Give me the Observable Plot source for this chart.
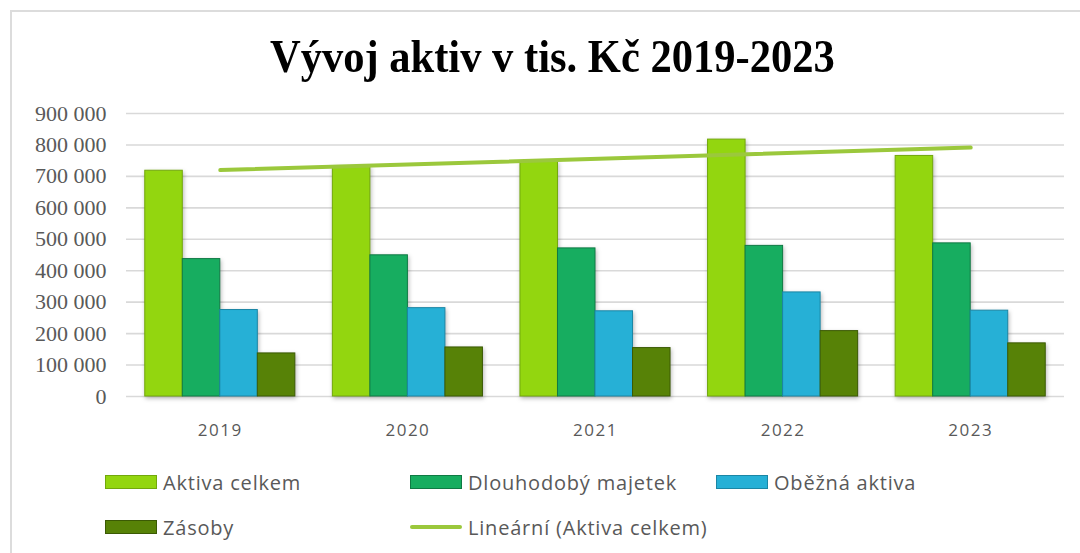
<!DOCTYPE html>
<html>
<head>
<meta charset="utf-8">
<script src="https://cdn.jsdelivr.net/npm/d3@7"></script>
<script src="https://cdn.jsdelivr.net/npm/@observablehq/plot@0.6"></script>
<style>
  html, body { margin: 0; padding: 0; background: #fff; width: 1080px; height: 553px; overflow: hidden; }
  #frame { position: absolute; left: 10px; top: 10px; width: 1200px; height: 700px; border-left: 2px solid #dcdcdc; border-top: 2px solid #dcdcdc; }
  #title { position: absolute; left: 0; top: 34px; width: 1105px; text-align: center; font-family: "Liberation Serif", "Times New Roman", serif; font-weight: bold; font-size: 46px; line-height: 46px; color: #000; }
  #title span { display: inline-block; transform: scaleX(0.925); transform-origin: center; }
  #chart { position: absolute; left: 0; top: 90px; }
  .leg { position: absolute; display: flex; align-items: center; font-family: "Open Sans", sans-serif; font-size: 20px; letter-spacing: 0.8px; color: #595959; height: 24px; white-space: nowrap; }
  .sw { width: 50px; height: 12px; margin-right: 6px; border: 1px solid; }
  .ln { width: 52px; height: 4px; margin-right: 6px; border-radius: 2px; }
</style>
</head>
<body>
<div id="frame"></div>
<div id="title"><span>Vývoj aktiv v tis. Kč 2019-2023</span></div>
<div id="chart"></div>
<div id="legend"></div>
<script>
// ---- data ----
const years = [2019, 2020, 2021, 2022, 2023];
const aktivaCelkem      = [718000, 732000, 747000, 817000, 765000];
const dlouhodobyMajetek = [437000, 449000, 471000, 479000, 487000];
const obeznaAktiva      = [275000, 281000, 271000, 331000, 273000];
const zasoby            = [137000, 156000, 154000, 208000, 169000];
const seriesNames = ["Aktiva celkem", "Dlouhodobý majetek", "Oběžná aktiva", "Zásoby"];
const trendName = "Lineární (Aktiva celkem)";
const yTicks = [0, 100000, 200000, 300000, 400000, 500000, 600000, 700000, 800000, 900000];

// ---- styles ----
const fills   = ["#93d60f", "#17ad60", "#26b0d6", "#578207"];
const strokes = ["#72a80c", "#0f7a44", "#1b86a5", "#3b5a04"];
const trendColor = "#9bc83c";

const seriesValues = [aktivaCelkem, dlouhodobyMajetek, obeznaAktiva, zasoby];
const groupWidth = 0.8, barWidth = groupWidth / seriesNames.length;
const rows = [];
seriesNames.forEach((name, si) => {
  years.forEach((yr, yi) => {
    const x1 = yr - groupWidth / 2 + si * barWidth;
    rows.push({series: name, si, year: yr, value: seriesValues[si][yi], x1, x2: x1 + barWidth});
  });
});
const trendData = years.map((yr, i) => ({year: yr, value: aktivaCelkem[i]}));

const fmt = d3.formatLocale({decimal: ",", thousands: " ", grouping: [3], currency: ["", " Kč"]}).format(",d");

const plot = Plot.plot({
  width: 1080,
  height: 362,
  marginTop: 23,
  marginBottom: 56,
  marginLeft: 126,
  marginRight: 16,
  style: {background: "transparent", overflow: "visible"},
  x: {type: "linear", domain: [years[0] - 0.5, years[years.length - 1] + 0.5], axis: null},
  y: {domain: [0, 900000], axis: null},
  marks: [
    Plot.ruleY(yTicks, {y: d => d, stroke: "#d9d9d9", strokeWidth: 1.6}),
    Plot.rectY(rows, {
      x1: "x1", x2: "x2", y1: 0, y2: "value",
      fill: d => fills[d.si], stroke: d => strokes[d.si], strokeWidth: 1
    }),
    Plot.linearRegressionY(trendData, {x: "year", y: "value", ci: 0, stroke: trendColor, strokeWidth: 4, strokeLinecap: "round"}),
    Plot.text(yTicks, {
      y: d => d, text: d => fmt(d), frameAnchor: "left", dx: -20, textAnchor: "end",
      fill: "#595959"
    }),
    Plot.text(years, {
      x: d => d, text: d => String(d), frameAnchor: "bottom", lineAnchor: "top", dy: 27,
      fill: "#595959"
    })
  ]
});
document.getElementById("chart").appendChild(plot);

// post-style text and bars
const yearStrs = years.map(String);
plot.querySelectorAll("text").forEach(t => {
  const s = (t.textContent || "").trim();
  if (yearStrs.includes(s)) {
    t.style.fontFamily = "'Open Sans', sans-serif";
    t.style.fontSize = "17px";
    t.style.letterSpacing = "1.5px";
  } else {
    t.style.fontFamily = "'Liberation Serif', 'Times New Roman', serif";
    t.style.fontSize = "22px";
  }
});
const firstRect = plot.querySelector("rect");
if (firstRect && firstRect.parentNode) firstRect.parentNode.style.filter = "drop-shadow(1px 2px 2px rgba(0,0,0,0.28))";

// ---- legend ----
const legend = document.getElementById("legend");
const legPos = [[105, 470], [410, 470], [716, 470], [105, 515]];
seriesNames.forEach((name, i) => {
  const el = document.createElement("div");
  el.className = "leg";
  el.style.left = legPos[i][0] + "px";
  el.style.top = legPos[i][1] + "px";
  el.innerHTML = `<div class="sw" style="background:${fills[i]};border-color:${strokes[i]}"></div><span>${name}</span>`;
  legend.appendChild(el);
});
const tl = document.createElement("div");
tl.className = "leg";
tl.style.left = "410px";
tl.style.top = "515px";
tl.innerHTML = `<div class="ln" style="background:${trendColor}"></div><span>${trendName}</span>`;
legend.appendChild(tl);
</script>
</body>
</html>
